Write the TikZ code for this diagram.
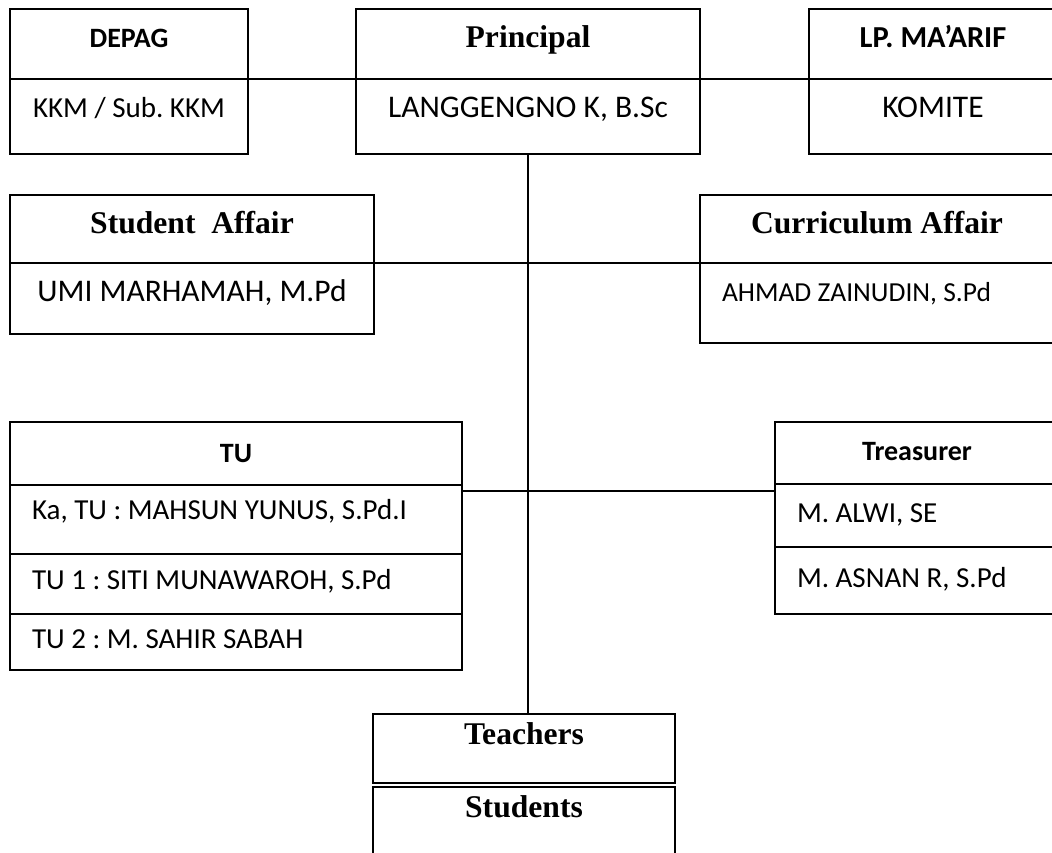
\documentclass[tikz,border=0pt]{standalone}
\usepackage{fontspec}
\setmainfont{Carlito}
\newfontfamily\timesfont{Liberation Serif}
\usetikzlibrary{positioning}
\frenchspacing

\begin{document}
\begin{tikzpicture}[x=1pt,y=-1pt,
    cell/.style={draw,line width=1.6pt,inner sep=0pt,outer sep=0pt,text height=38pt,
      font=\fontsize{29}{34}\selectfont},
    big/.style={font=\fontsize{31.5}{36}\selectfont},
    title/.style={font=\fontsize{28}{32}\selectfont\bfseries},
    roman/.style={font=\fontsize{31.6}{36}\selectfont\timesfont\bfseries},
    entry/.style={align=flush left,inner xsep=22pt,text width=#1},
    link/.style={line width=1.4pt}]

\useasboundingbox (0,0) rectangle (1052,852);
\fill [white] (0,0) rectangle (1052,852);
\clip (0,0) rectangle (1052,852);

% top row
\node [cell, title, minimum width=238pt, text depth=32pt, anchor=north west] (depag) at (10,9) {DEPAG};
\node [cell, minimum width=238pt, text depth=37pt, below=0pt of depag] (kkm) {KKM / Sub. KKM};

\node [cell, roman, minimum width=344pt, text depth=32pt, anchor=north west] (principal) at (356,9) {Principal};
\node [cell, big, minimum width=344pt, text depth=37pt, below=0pt of principal] (langgengno) {LANGGENGNO K, B.Sc};

\node [cell, title, font=\fontsize{30.5}{35}\selectfont\bfseries, minimum width=248pt, text depth=32pt,
    anchor=north west] (maarif) at (809,9) {LP. MA’ARIF};
\node [cell, big, minimum width=248pt, text depth=37pt, below=0pt of maarif] (komite) {KOMITE};

% affair row
\node [cell, roman, minimum width=364pt, text depth=30pt, anchor=north west] (student) at (10,195) {Student\ \ Affair};
\node [cell, big, minimum width=364pt, text depth=33pt, below=0pt of student] (umi) {UMI MARHAMAH, M.Pd};

\node [cell, roman, minimum width=354pt, text depth=30pt, anchor=north west] (curriculum) at (700,195) {Curriculum Affair};
\node [cell, entry=310pt, font=\fontsize{27.5}{32}\selectfont, text depth=42pt, below=0pt of curriculum] (ahmad)
    {AHMAD ZAINUDIN, S.Pd};

% staff row
\node [cell, title, minimum width=452pt, text height=40pt, text depth=23pt, anchor=north west] (tu) at (10,422) {TU};
\node [cell, entry=408pt, text height=34pt, text depth=35pt, below=0pt of tu] (katu) {Ka, TU : MAHSUN YUNUS, S.Pd.I};
\node [cell, entry=408pt, text height=35pt, text depth=25pt, below=0pt of katu] (tu1) {TU 1 : SITI MUNAWAROH, S.Pd};
\node [cell, entry=408pt, text height=34pt, text depth=22pt, below=0pt of tu1] (tu2) {TU 2 : M. SAHIR SABAH};

\node [cell, title, minimum width=284pt, text depth=24pt, anchor=north west] (treasurer) at (775,422) {Treasurer};
\node [cell, entry=240pt, text depth=25pt, below=0pt of treasurer] (alwi) {M. ALWI, SE};
\node [cell, entry=240pt, text height=40pt, text depth=27pt, below=0pt of alwi] (asnan) {M. ASNAN R, S.Pd};

% bottom
\node [cell, roman, minimum width=302pt, text height=30pt, text depth=39pt, anchor=north west] (teachers) at (373,714) {Teachers};
\node [cell, roman, minimum width=302pt, text height=30pt, text depth=50pt, below=4pt of teachers] (students) {Students};

% connectors
\draw [link] (kkm.north east) -- (langgengno.north west);
\draw [link] (langgengno.north east) -- (komite.north west);
\draw [link] (umi.north east) -- (ahmad.north west);
\coordinate (tujoint) at ([yshift=-6pt]katu.north east);
\draw [link] (tujoint) -- (tujoint -| alwi.west);
\draw [link] (langgengno.south) -- (langgengno.south |- teachers.north);

\end{tikzpicture}
\end{document}
